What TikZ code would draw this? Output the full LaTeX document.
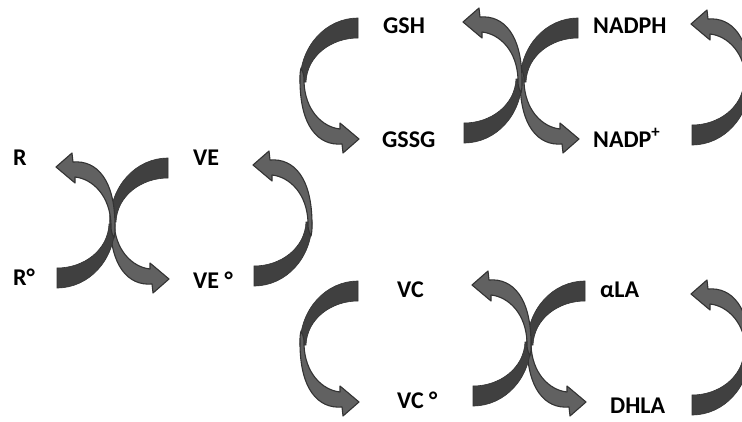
\documentclass[tikz,border=0pt]{standalone}
\usepackage{fontspec}
\setmainfont{Carlito}
\definecolor{darkc}{HTML}{404040}
\definecolor{lightc}{HTML}{616161}
\definecolor{edgec}{HTML}{333333}
\tikzset{
  carrow/.pic={
    \filldraw[fill=darkc, draw=edgec, line width=0.6]
      (0,0) .. controls (32,0) and (58,-28) .. (58,-64) -- (52,-64)
      .. controls (51,-38) and (27,-20) .. (0,-20) -- cycle;
    \filldraw[fill=lightc, draw=edgec, line width=1.1, line join=round]
      (57,-50) .. controls (58,-55) .. (58,-62)
      .. controls (58,-108) and (40,-128) .. (16,-126) -- (15,-135) -- (-1,-121)
      -- (18,-105) -- (18,-111)
      .. controls (36,-109) and (53,-92) .. (54,-64)
      .. controls (54,-57) .. (57,-50) -- cycle;
  },
  lbl/.style={anchor=base west, inner sep=0pt, font=\fontsize{24}{28}\selectfont\bfseries, text=black}
}
\begin{document}
\begin{tikzpicture}[x=1pt,y=-1pt]
\useasboundingbox (0,0) rectangle (742,421);
\fill[white] (0,0) rectangle (742,421);
\begin{scope}
\clip (0,0) rectangle (742,421);
% left group
\pic[rotate=180] at (168,158) {carrow};
\pic at (57,288) {carrow};
\pic at (254,286) {carrow};
% top group
\pic[rotate=180] at (358,18) {carrow};
\pic[rotate=180] at (578,18) {carrow};
\pic at (464,143) {carrow};
\pic at (692,145) {carrow};
% bottom group
\pic[rotate=180] at (358,281) {carrow};
\pic[rotate=180] at (585,281) {carrow};
\pic at (473,406) {carrow};
\pic at (692,415) {carrow};
\end{scope}
% labels
\node[lbl] (r) at (13,165) {R};
\node[lbl] (rr) at (13,285) {R°};
\node[lbl] (ve) at (193,165) {VE};
\node[lbl] (ver) at (193,288) {VE °};
\node[lbl] (gsh) at (383,33) {GSH};
\node[lbl] (gssg) at (382,147) {GSSG};
\node[lbl] (nadph) at (593,33) {NADPH};
\node[lbl] (nadp) at (593,147) {NADP\textsuperscript{+}};
\node[lbl] (vc) at (397,297) {VC};
\node[lbl] (vcr) at (397,408) {VC °};
\node[lbl] (ala) at (600,297) {αLA};
\node[lbl] (dhla) at (610,413) {DHLA};
\end{tikzpicture}
\end{document}
